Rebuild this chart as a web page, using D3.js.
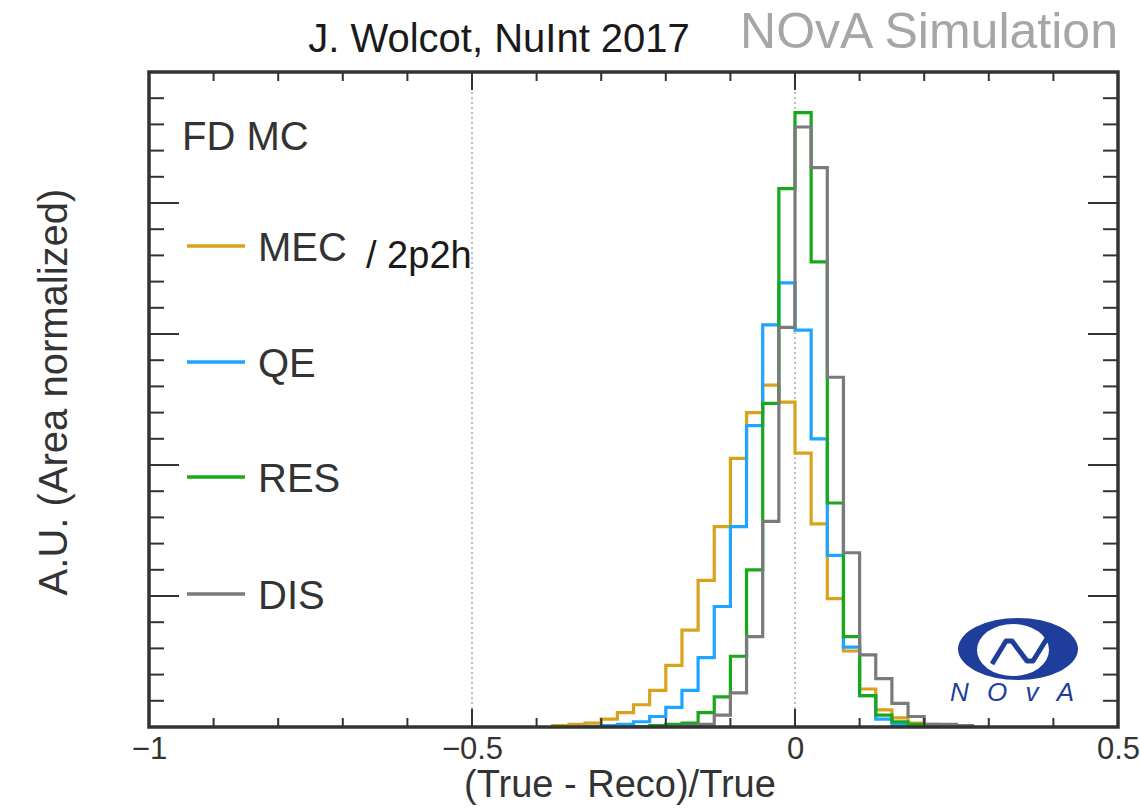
<!DOCTYPE html>
<html>
<head>
<meta charset="utf-8">
<script src="https://cdn.jsdelivr.net/npm/d3@7"></script>
<style>
  html, body { margin: 0; padding: 0; background: #fff; }
  svg { display: block; }
  text { font-family: "Liberation Sans", Arial, Helvetica, sans-serif; }
</style>
</head>
<body>
<svg id="chart" width="1140" height="808"></svg>
<script>
// ---------------- data ----------------
const binWidth = 0.025;
const binStart = -0.4;          // low edge of the first bin
const xTickLabels = ["\u22121", "\u22120.5", "0", "0.5"];
const xTickValues = [-1, -0.5, 0, 0.5];
const seriesNames = ["MEC", "QE", "RES", "DIS"];
// bin contents (A.U.), bins from -0.4 to 0.275 in steps of 0.025
const mecValues = [0, 0.01, 0.02, 0.03, 0.06, 0.11, 0.17, 0.28, 0.47, 0.74, 1.12, 1.53, 2.05, 2.40, 2.61, 2.48, 2.09, 1.55, 0.98, 0.58, 0.29, 0.13, 0.07, 0.03, 0.02, 0, 0];
const qeValues  = [0, 0, 0, 0.004, 0.01, 0.02, 0.04, 0.08, 0.15, 0.28, 0.53, 0.92, 1.53, 2.30, 3.07, 3.39, 3.03, 2.20, 1.31, 0.61, 0.24, 0.06, 0.02, 0.01, 0, 0, 0];
const resValues = [0, 0, 0, 0, 0, 0, 0.004, 0.01, 0.02, 0.03, 0.11, 0.23, 0.54, 1.20, 2.47, 4.11, 4.69, 3.55, 1.71, 0.69, 0.24, 0.09, 0.04, 0.02, 0.01, 0, 0];
const disValues = [0, 0, 0, 0, 0, 0, 0, 0, 0.004, 0.01, 0.02, 0.09, 0.26, 0.69, 1.57, 3.05, 4.58, 4.27, 2.67, 1.33, 0.55, 0.37, 0.18, 0.08, 0.02, 0.02, 0.01];
const seriesColors = ["#d9a21b", "#1ea5ff", "#18a81c", "#7a7a7a"];

// ---------------- layout ----------------
const svg = d3.select("#chart");
const L = 149, R = 1118, T = 72, B = 727;
const x = d3.scaleLinear().domain([-1, 0.5]).range([L, R]);
const y = d3.scaleLinear().domain([0, 5]).range([B, T]);
const ink = "#333";

// dotted guide lines
[-0.5, 0].forEach(v => {
  svg.append("line")
    .attr("x1", x(v)).attr("x2", x(v)).attr("y1", T).attr("y2", B)
    .attr("stroke", "#9a9a9a").attr("stroke-width", 1.3)
    .attr("stroke-dasharray", "2,3");
});

// histograms
const allSeries = [mecValues, qeValues, resValues, disValues];
allSeries.forEach((vals, si) => {
  let first = vals.findIndex(v => v > 0);
  let last = vals.length - 1 - [...vals].reverse().findIndex(v => v > 0);
  const pts = [[binStart + first * binWidth, 0]];
  for (let i = first; i <= last; i++) pts.push([binStart + i * binWidth, vals[i]]);
  pts.push([binStart + (last + 1) * binWidth, 0]);
  const line = d3.line().x(d => x(d[0])).y(d => y(d[1])).curve(d3.curveStepAfter);
  svg.append("path").attr("d", line(pts))
    .attr("fill", "none").attr("stroke", seriesColors[si])
    .attr("stroke-width", 3.2).attr("stroke-linejoin", "miter");
});

// ticks
const tk = svg.append("g").attr("stroke", ink).attr("stroke-width", 2);
d3.range(-1, 0.5001, 0.1).forEach(v => {
  const major = xTickValues.some(m => Math.abs(m - v) < 1e-6);
  const len = major ? 18 : 9;
  tk.append("line").attr("x1", x(v)).attr("x2", x(v)).attr("y1", B).attr("y2", B - len);
  tk.append("line").attr("x1", x(v)).attr("x2", x(v)).attr("y1", T).attr("y2", T + len);
});
d3.range(0, 5.0001, 0.2).forEach(v => {
  const major = Math.abs(v - Math.round(v)) < 1e-6;
  const len = major ? 30 : 15;
  tk.append("line").attr("x1", L).attr("x2", L + len).attr("y1", y(v)).attr("y2", y(v));
  tk.append("line").attr("x1", R).attr("x2", R - len).attr("y1", y(v)).attr("y2", y(v));
});

// frame
svg.append("rect").attr("x", L).attr("y", T).attr("width", R - L).attr("height", B - T)
  .attr("fill", "none").attr("stroke", ink).attr("stroke-width", 3.5);

// x tick labels via axis
const xAxis = d3.axisBottom(x).tickValues(xTickValues)
  .tickFormat((d, i) => xTickLabels[i]).tickSize(0).tickPadding(10);
const gx = svg.append("g").attr("transform", `translate(0,${B})`).call(xAxis);
gx.select(".domain").remove();
gx.selectAll("text").attr("font-size", 31).attr("fill", ink)
  .attr("font-family", "Liberation Sans, Arial, sans-serif");

// axis titles
svg.append("text").attr("x", 620).attr("y", 797).attr("text-anchor", "middle")
  .attr("font-size", 38).attr("fill", ink).text("(True - Reco)/True");
svg.append("text").attr("transform", "translate(67,392) rotate(-90)")
  .attr("text-anchor", "middle").attr("font-size", 40).attr("fill", ink)
  .text("A.U. (Area normalized)");

// header texts
svg.append("text").attr("x", 499).attr("y", 52).attr("text-anchor", "middle")
  .attr("font-size", 40).attr("fill", "#1a1a1a").attr("font-family", "Roboto, Liberation Sans, sans-serif")
  .attr("font-weight", 300).text("J. Wolcot, NuInt 2017");
svg.append("text").attr("x", 929).attr("y", 48).attr("text-anchor", "middle")
  .attr("font-size", 50).attr("fill", "#a6a6a6").text("NOvA Simulation");

// FD MC
svg.append("text").attr("x", 182).attr("y", 150).attr("font-size", 40).attr("fill", ink).text("FD MC");

// legend
const legendY = [246, 362, 477, 594];
seriesNames.forEach((name, i) => {
  svg.append("line").attr("x1", 187).attr("x2", 245).attr("y1", legendY[i]).attr("y2", legendY[i])
    .attr("stroke", seriesColors[i]).attr("stroke-width", 3.5);
  svg.append("text").attr("x", 258).attr("y", legendY[i] + 15).attr("font-size", 40)
    .attr("fill", ink).text(name);
});
svg.append("text").attr("x", 366).attr("y", 268).attr("font-size", 38)
  .attr("fill", "#1a1a1a").attr("font-family", "Roboto, Liberation Sans, sans-serif")
  .attr("font-weight", 300).text("/ 2p2h");

// NOvA logo
const logo = svg.append("g");
logo.append("ellipse").attr("cx", 1018).attr("cy", 649).attr("rx", 60).attr("ry", 31).attr("fill", "#1f3e9c");
logo.append("ellipse").attr("cx", 1013).attr("cy", 650).attr("rx", 36).attr("ry", 26).attr("fill", "#fff");
logo.append("path").attr("d", "M992,664 L1006,641 L1012,641 L1027,661 L1033,661 L1046,640 L1050,636")
  .attr("fill", "none").attr("stroke", "#1f3e9c").attr("stroke-width", 5).attr("stroke-linejoin", "round");
logo.append("circle").attr("cx", 1051).attr("cy", 637).attr("r", 3).attr("fill", "none")
  .attr("stroke", "#1f3e9c").attr("stroke-width", 2);
logo.append("text").attr("x", 950).attr("y", 701)
  .attr("font-size", 26).attr("font-style", "italic").attr("fill", "#1f3e9c")
  .attr("textLength", 124).attr("lengthAdjust", "spacing")
  .attr("font-family", "DejaVu Serif, serif").text("NOvA");
</script>
</body>
</html>
